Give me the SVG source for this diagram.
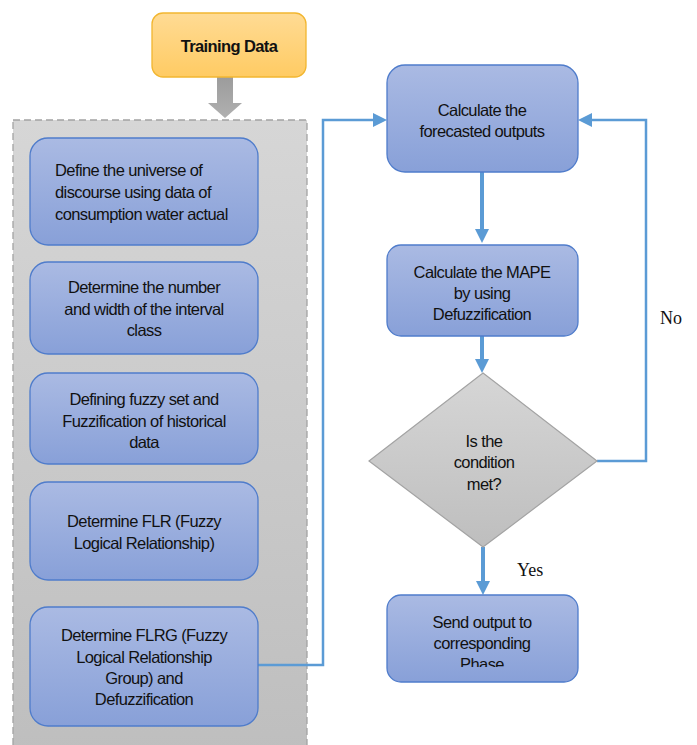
<svg xmlns="http://www.w3.org/2000/svg" width="697" height="745" viewBox="0 0 697 745">
<defs>
<linearGradient id="gBlue" x1="0" y1="0" x2="0" y2="1"><stop offset="0" stop-color="#AABAE3"/><stop offset="1" stop-color="#88A0D8"/></linearGradient>
<linearGradient id="gOrange" x1="0" y1="0" x2="0" y2="1"><stop offset="0" stop-color="#FFDB94"/><stop offset="1" stop-color="#FFCB63"/></linearGradient>
<linearGradient id="gGray" x1="0" y1="0" x2="0" y2="1"><stop offset="0" stop-color="#D6D6D6"/><stop offset="1" stop-color="#BEBEBE"/></linearGradient>
<linearGradient id="gArrow" x1="0" y1="0" x2="0" y2="1"><stop offset="0" stop-color="#9C9C9C"/><stop offset="1" stop-color="#B0B0B0"/></linearGradient>
<marker id="ah" viewBox="0 0 14 14" refX="0" refY="7" markerWidth="14" markerHeight="14" markerUnits="userSpaceOnUse" orient="auto"><path d="M0,0 L14,7 L0,14 z" fill="#5B9BD5"/></marker>
<clipPath id="clipPhase"><rect x="387" y="595" width="191" height="72"/></clipPath>
</defs>
<style>
.box{fill:url(#gBlue);stroke:#4F7CCB;stroke-width:1.3}
.t{font-family:"Liberation Sans",Arial,sans-serif;font-size:16.5px;letter-spacing:-0.6px;fill:#111;text-anchor:middle}
.tl{text-anchor:start}
.lbl{font-family:"Liberation Serif","Times New Roman",serif;font-size:18px;fill:#111}
.c{fill:none;stroke:#5B9BD5;stroke-linejoin:miter}
.thick{stroke-width:4}
.thin{stroke-width:2.5}
</style>
<rect width="697" height="745" fill="#FFFFFF"/>

<g id="container">
<rect x="13" y="120" width="294" height="640" fill="url(#gGray)" stroke="#A3A3A3" stroke-width="1.3" stroke-dasharray="7,4"/>
</g>

<g id="connectors">
<path d="M217,77 L233,77 L233,103 L242,103 L225,118 L208,103 L217,103 Z" fill="url(#gArrow)"/>
<path class="c thin" d="M258,665 L323,665 L323,120 L373,120" marker-end="url(#ah)"/>
<path class="c thick" d="M482,172 L482,229" marker-end="url(#ah)"/>
<path class="c thick" d="M482,336 L482,359" marker-end="url(#ah)"/>
<path class="c thin" d="M597,461 L646,461 L646,120 L592,120" marker-end="url(#ah)"/>
<path class="c thick" d="M483,547 L483,581" marker-end="url(#ah)"/>
</g>

<g id="training">
<rect x="152" y="13" width="154" height="64" rx="11" fill="url(#gOrange)" stroke="#F2B630" stroke-width="1.3"/>
<text class="t" x="229" y="52" style="font-weight:bold">Training Data</text>
</g>

<g id="n1">
<rect class="box" x="30" y="138" width="228" height="107" rx="18"/>
<text class="t tl" x="55" y="176">Define the universe of</text>
<text class="t tl" x="55" y="198">discourse using data of</text>
<text class="t tl" x="55" y="220">consumption water actual</text>
</g>

<g id="n2">
<rect class="box" x="30" y="262" width="228" height="92" rx="18"/>
<text class="t" x="144" y="293">Determine the number</text>
<text class="t" x="144" y="315">and width of the interval</text>
<text class="t" x="144" y="336">class</text>
</g>

<g id="n3">
<rect class="box" x="30" y="373" width="228" height="91" rx="18"/>
<text class="t" x="144" y="405">Defining fuzzy set and</text>
<text class="t" x="144" y="427">Fuzzification of historical</text>
<text class="t" x="144" y="448">data</text>
</g>

<g id="n4">
<rect class="box" x="30" y="482" width="228" height="98" rx="18"/>
<text class="t" x="144" y="527">Determine FLR (Fuzzy</text>
<text class="t" x="144" y="549">Logical Relationship)</text>
</g>

<g id="n5">
<rect class="box" x="30" y="607" width="228" height="119" rx="18"/>
<text class="t" x="144" y="641">Determine FLRG (Fuzzy</text>
<text class="t" x="144" y="663">Logical Relationship</text>
<text class="t" x="144" y="684">Group) and</text>
<text class="t" x="144" y="705">Defuzzification</text>
</g>

<g id="n6">
<rect class="box" x="387" y="65" width="191" height="107" rx="18"/>
<text class="t" x="482" y="116">Calculate the</text>
<text class="t" x="482" y="137">forecasted outputs</text>
</g>

<g id="n7">
<rect class="box" x="387" y="245" width="191" height="91" rx="14"/>
<text class="t" x="482" y="278">Calculate the MAPE</text>
<text class="t" x="482" y="299">by using</text>
<text class="t" x="482" y="320">Defuzzification</text>
</g>

<g id="decision">
<path d="M483,373 L597,461 L483,547 L369,461 Z" fill="url(#gGray)" stroke="#A3A3A3" stroke-width="1.2"/>
<text class="t" x="484" y="447">Is the</text>
<text class="t" x="484" y="468">condition</text>
<text class="t" x="484" y="490">met?</text>
</g>

<g id="n8">
<rect class="box" x="387" y="595" width="191" height="87" rx="14"/>
<g clip-path="url(#clipPhase)">
<text class="t" x="482" y="628">Send output to</text>
<text class="t" x="482" y="649">corresponding</text>
<text class="t" x="482" y="670">Phase</text>
</g>
</g>

<g id="labels">
<text class="lbl" x="660" y="324">No</text>
<text class="lbl" x="517" y="576">Yes</text>
</g>
</svg>
